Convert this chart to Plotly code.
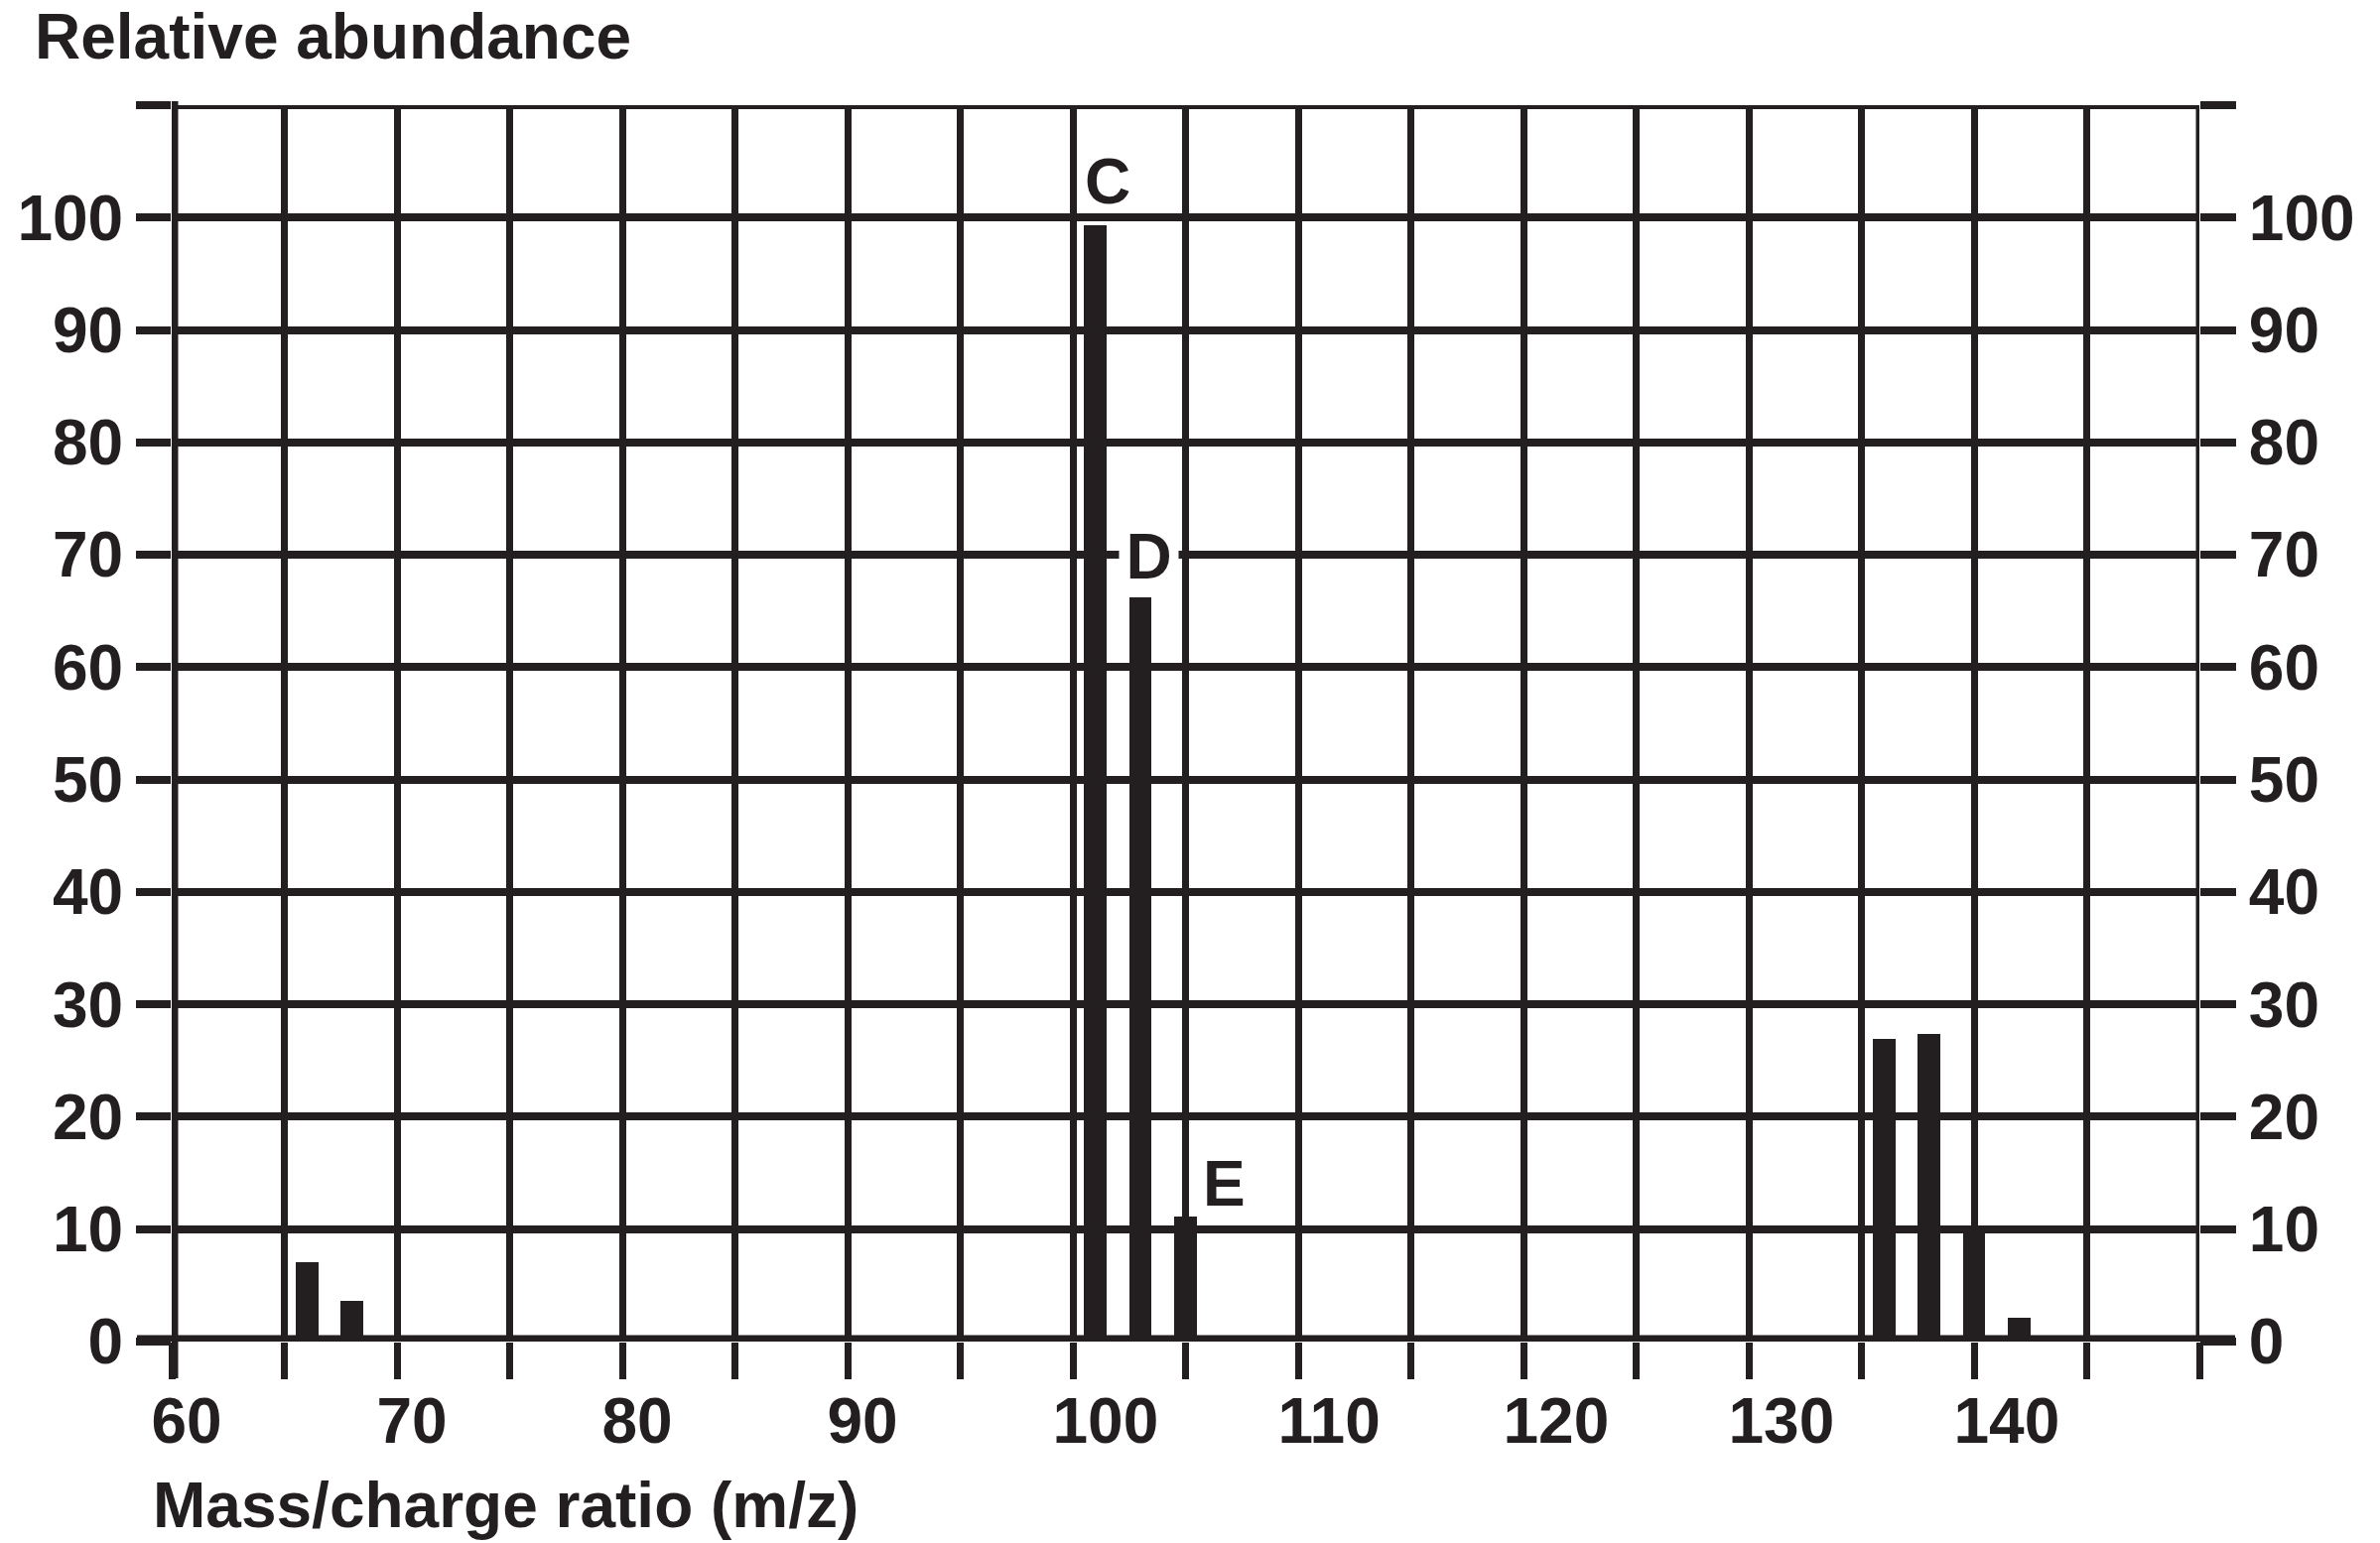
import plotly.graph_objects as go

# ---- data ----
mz = [66, 68, 101, 103, 105, 136, 138, 140, 142]
abundance = [7.1, 3.6, 99.3, 66.2, 11.1, 26.9, 27.4, 9.7, 2.1]

x_ticks = list(range(60, 151, 5))
x_tick_text = [str(v) if (v % 10 == 0 and v <= 140) else "" for v in x_ticks]
y_ticks = list(range(0, 111, 10))
y_tick_text = [str(v) if v <= 100 else "" for v in y_ticks]

peak_labels = ["C", "D", "E"]

# ---- styling ----
INK = "#231f20"
FONT = dict(family="Liberation Sans, Arial, sans-serif", size=64, color=INK, weight="bold")
W, H = 2398, 1555
L, R, T, B = 173, 182, 106, 203
PW, PH = W - L - R, H - T - B

label_pos = [(101.55, 103.2), (103.38, 69.8), (106.73, 14.0)]

fig = go.Figure()
fig.add_trace(go.Bar(
    x=mz, y=abundance, width=[1.0] * len(mz),
    marker=dict(color=INK, line=dict(width=0)),
    hoverinfo="skip", showlegend=False,
))
fig.add_trace(go.Scatter(
    x=mz, y=abundance, yaxis="y2", mode="markers",
    marker=dict(opacity=0), hoverinfo="skip", showlegend=False,
))

fig.update_layout(
    width=W, height=H,
    margin=dict(l=L, r=R, t=T, b=B, pad=0, autoexpand=False),
    paper_bgcolor="white", plot_bgcolor="white",
    font=FONT, showlegend=False, bargap=0,
    xaxis=dict(
        range=[60, 150], tickmode="array", tickvals=x_ticks, ticktext=x_tick_text,
        showgrid=True, gridcolor=INK, gridwidth=7, zeroline=False, showline=False,
        ticks="outside", ticklen=37, tickwidth=7, tickcolor=INK,
        ticklabelposition="outside right", ticklabelshift=-24, ticklabelstandoff=24,
        tickfont=FONT, fixedrange=True,
    ),
    yaxis=dict(
        range=[0, 110], tickmode="array", tickvals=y_ticks, ticktext=y_tick_text,
        showgrid=True, gridcolor=INK, gridwidth=8, zeroline=False, showline=False,
        ticks="outside", ticklen=35, tickwidth=8, tickcolor=INK,
        tickfont=FONT, fixedrange=True,
    ),
    yaxis2=dict(
        range=[0, 110], overlaying="y", side="right", anchor="x",
        tickmode="array", tickvals=y_ticks, ticktext=y_tick_text,
        showgrid=False, zeroline=False, showline=False,
        ticks="outside", ticklen=36, tickwidth=8, tickcolor=INK,
        tickfont=FONT, fixedrange=True,
    ),
)

# frame lines at the range edges (grid lines there are not drawn by plotly)
fig.add_shape(type="line", xref="x", yref="y", x0=60, x1=150, y0=110, y1=110,
              line=dict(color=INK, width=8))
fig.add_shape(type="line", xref="x", yref="y", x0=150, x1=150, y0=0, y1=110,
              line=dict(color=INK, width=7))
# thick axis lines (left at x=60, bottom at y=0)
fig.add_shape(type="line", xref="x", yref="paper", x0=60, x1=60,
              y0=-37 / PH, y1=1 + 4 / PH, line=dict(color=INK, width=13))
fig.add_shape(type="line", xref="paper", yref="y", x0=-35 / PW, x1=1 + 36 / PW,
              y0=0, y1=0, line=dict(color=INK, width=13))

# peak labels
for lab, (lx, ly) in zip(peak_labels, label_pos):
    kw = {}
    if lab == "D":
        kw = dict(bgcolor="white", width=55, height=56, borderpad=2)
    fig.add_annotation(x=lx, y=ly, xref="x", yref="y", text=lab, showarrow=False,
                       xanchor="center", yanchor="middle", font=FONT, **kw)

# axis titles
fig.add_annotation(x=(33 - L) / PW, y=(H - B - 36.7) / PH, xref="paper", yref="paper",
                   text="Relative abundance", showarrow=False,
                   xanchor="left", yanchor="middle", font=FONT)
fig.add_annotation(x=(152 - L) / PW, y=(H - B - 1516.6) / PH, xref="paper", yref="paper",
                   text="Mass/charge ratio (m/z)", showarrow=False,
                   xanchor="left", yanchor="middle", font=FONT)

fig.write_html("out.html", config={"displayModeBar": False},
               post_script="document.body.style.margin='0px';")
